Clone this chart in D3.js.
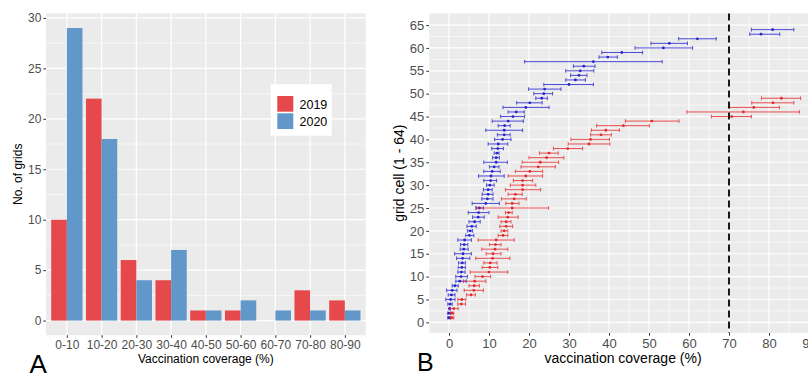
<!DOCTYPE html>
<html>
<head>
<meta charset="utf-8">
<script src="https://cdn.jsdelivr.net/npm/d3@7"></script>
<style>
  body { margin: 0; background: #fff; }
  text { font-family: "Liberation Sans", Arial, sans-serif; }
</style>
</head>
<body>
<div id="chart"></div>
<script>
// Panel A: histogram of grids per coverage bin
const bins = ["0-10", "10-20", "20-30", "30-40", "40-50", "50-60", "60-70", "70-80", "80-90"];
const grids2019 = [10, 22, 6, 4, 1, 1, 0, 3, 2];
const grids2020 = [29, 18, 4, 7, 1, 2, 1, 1, 1];
const yTicksA = [0, 5, 10, 15, 20, 25, 30];

// Panel B: coverage per grid cell (sorted), with intervals
const cov2020 = [0.0, 0.0, 0.15, 0.25, 0.4, 0.6, 0.8, 1.5, 2.7, 3.0, 3.1, 3.2, 3.3, 3.4, 3.5, 3.7, 3.8, 3.9, 5.1, 5.3,
  5.7, 6.4, 7.3, 7.4, 7.6, 9.2, 9.6, 9.8, 9.8, 10.2, 10.4, 10.5, 10.8, 11.3, 11.8, 11.8, 12.0, 12.2, 12.3, 13.4,
  13.8, 13.8, 13.9, 14.8, 16.0, 16.8, 19.2, 20.2, 23.2, 23.7, 23.9, 30.0, 31.6, 32.5, 32.8, 33.7, 36.1, 39.7, 43.2, 53.6,
  55.1, 62.1, 78.0, 80.9];
const lo2020 = [-0.3, -0.3, 0.0, -0.3, -0.8, -0.2, -0.6, 0.8, 1.7, 1.7, 2.2, 2.3, 2.4, 1.9, 1.4, 2.8, 2.9, 2.2, 4.2, 4.6,
  4.5, 5.0, 5.9, 4.8, 6.7, 5.8, 8.2, 8.3, 8.6, 9.4, 8.7, 7.4, 8.7, 10.1, 8.7, 10.9, 11.3, 10.7, 9.8, 11.4,
  12.1, 9.2, 12.3, 10.8, 12.9, 14.8, 13.5, 16.9, 21.7, 21.2, 19.9, 23.7, 29.2, 30.4, 29.2, 31.1, 18.9, 37.5, 38.2, 46.5,
  50.5, 57.4, 75.2, 75.6];
const hi2020 = [0.3, 0.5, 0.3, 0.8, 1.5, 1.5, 2.0, 2.3, 4.3, 4.6, 4.0, 4.1, 4.1, 5.2, 5.6, 4.8, 4.7, 5.6, 6.2, 5.9,
  6.8, 7.8, 8.8, 10.0, 8.6, 12.6, 11.0, 11.0, 10.8, 11.3, 11.9, 13.8, 12.8, 12.5, 14.6, 12.6, 12.5, 13.6, 14.7, 15.5,
  15.3, 18.4, 15.3, 18.6, 18.9, 18.8, 25.0, 23.3, 24.6, 25.9, 28.0, 36.1, 34.1, 34.5, 36.2, 36.5, 53.3, 42.1, 48.4, 60.9,
  59.6, 66.8, 82.7, 86.2];

const cov2019 = [0.7, 0.8, 1.2, 3.1, 3.2, 5.5, 6.2, 6.3, 6.4, 8.4, 10.0, 10.2, 10.3, 10.9, 11.0, 11.5, 11.6, 11.8, 13.5, 13.8,
  14.3, 14.3, 14.7, 14.9, 15.8, 15.8, 16.3, 16.6, 18.4, 18.4, 18.4, 19.2, 20.2, 22.3, 22.8, 24.4, 25.0, 29.7, 35.0, 35.4,
  38.0, 39.2, 43.6, 50.7, 70.7, 73.6, 76.2, 81.0, 83.1];
const lo2019 = [0.3, 0.4, 0.3, 2.2, 2.2, 4.4, 3.8, 5.0, 3.6, 6.5, 5.3, 8.3, 8.7, 6.7, 9.3, 8.2, 10.1, 7.3, 12.3, 13.0,
  12.7, 13.0, 12.3, 14.1, 6.9, 14.2, 13.1, 14.8, 14.1, 15.3, 16.1, 14.8, 16.6, 18.0, 18.3, 20.0, 22.6, 26.1, 29.8, 30.5,
  35.4, 35.6, 36.9, 44.1, 65.6, 59.5, 70.1, 75.7, 78.1];
const hi2019 = [1.2, 1.2, 2.3, 4.1, 4.2, 6.6, 8.6, 7.6, 9.2, 10.4, 14.7, 12.2, 12.0, 15.2, 13.0, 14.7, 13.0, 16.3, 14.7, 14.7,
  15.9, 15.5, 17.3, 15.8, 24.9, 17.5, 19.3, 18.3, 22.9, 21.7, 20.9, 23.4, 23.4, 26.6, 27.4, 28.7, 27.3, 33.4, 40.2, 40.1,
  40.6, 42.6, 50.1, 57.5, 75.6, 87.6, 82.6, 86.2, 87.9];
const xTicksB = [0, 10, 20, 30, 40, 50, 60, 70, 80, 90];
const yTicksB = d3.range(0, 66, 5);
const threshold = 70;

const width = 808, height = 375;
const red = "#e5494c", blue = "#6198c9";
const red2 = "#e8262a", blue2 = "#2323d2";

const svg = d3.select("#chart").append("svg")
  .attr("width", width).attr("height", height)
  .style("display", "block");

svg.append("rect").attr("width", width).attr("height", height).attr("fill", "#fff");

// ---------- Panel A ----------
const a = { l: 46, r: 365.7, t: 13.4, b: 335.2 };
const xA = d3.scalePoint().domain(bins).range([a.l, a.r]).padding(0.6);
const yA = d3.scaleLinear().domain([-1.45, 30.45]).range([a.b, a.t]);
const bw = xA.step() * 0.45;

const gA = svg.append("g");
gA.append("rect").attr("x", a.l).attr("y", a.t)
  .attr("width", a.r - a.l).attr("height", a.b - a.t).attr("fill", "#ebebeb");

// minor + major gridlines
gA.append("g").selectAll("line").data(d3.range(2.5, 30, 5)).join("line")
  .attr("x1", a.l).attr("x2", a.r).attr("y1", d => yA(d)).attr("y2", d => yA(d))
  .attr("stroke", "#fff").attr("stroke-width", 0.6);
gA.append("g").selectAll("line").data(yTicksA).join("line")
  .attr("x1", a.l).attr("x2", a.r).attr("y1", d => yA(d)).attr("y2", d => yA(d))
  .attr("stroke", "#fff").attr("stroke-width", 1.2);
gA.append("g").selectAll("line").data(bins).join("line")
  .attr("x1", d => xA(d)).attr("x2", d => xA(d)).attr("y1", a.t).attr("y2", a.b)
  .attr("stroke", "#fff").attr("stroke-width", 1.2);

// bars
gA.append("g").selectAll("rect").data(bins).join("rect")
  .attr("x", d => xA(d) - bw).attr("width", bw)
  .attr("y", (d, i) => yA(grids2019[i])).attr("height", (d, i) => yA(0) - yA(grids2019[i]))
  .attr("fill", red);
gA.append("g").selectAll("rect").data(bins).join("rect")
  .attr("x", d => xA(d)).attr("width", bw)
  .attr("y", (d, i) => yA(grids2020[i])).attr("height", (d, i) => yA(0) - yA(grids2020[i]))
  .attr("fill", blue);

// axes
const axA_y = gA.append("g").attr("transform", `translate(${a.l},0)`)
  .call(d3.axisLeft(yA).tickValues(yTicksA).tickSize(2.7).tickPadding(2));
const axA_x = gA.append("g").attr("transform", `translate(0,${a.b})`)
  .call(d3.axisBottom(xA).tickSize(2.7).tickPadding(3));
[axA_y, axA_x].forEach(ax => {
  ax.select(".domain").remove();
  ax.selectAll(".tick line").attr("stroke", "#333");
  ax.selectAll(".tick text").attr("fill", "#4d4d4d").attr("font-size", 12)
    .attr("font-family", "Liberation Sans, Arial, sans-serif");
});

gA.append("text").attr("x", (a.l + a.r) / 2).attr("y", 363)
  .attr("text-anchor", "middle").attr("font-size", 12).text("Vaccination coverage (%)");
gA.append("text").attr("transform", `translate(22,${(a.t + a.b) / 2}) rotate(-90)`)
  .attr("text-anchor", "middle").attr("font-size", 12).text("No. of grids");

// legend
const leg = gA.append("g");
leg.append("rect").attr("x", 270.7).attr("y", 84.3).attr("width", 61).attr("height", 51.4).attr("fill", "#fff");
[["2019", red], ["2020", blue]].forEach(([lab, c], i) => {
  leg.append("rect").attr("x", 277.3).attr("y", 96 + i * 17.3).attr("width", 16).attr("height", 15.7).attr("fill", c);
  leg.append("text").attr("x", 299.5).attr("y", 108.6 + i * 17.3).attr("font-size", 12.5).attr("fill", "#000").text(lab);
});

svg.append("text").attr("x", 29.5).attr("y", 373).attr("font-size", 26).text("A");

// ---------- Panel B ----------
const b = { l: 429, t: 13.4, b: 333 };
const xB = d3.scaleLinear().domain([-5, 92.5]).range([b.l, b.l + 97.5 * 4]);
const yB = d3.scaleLinear().domain([-2.33, 67.55]).range([b.b, b.t]);
const rB = width;

const gB = svg.append("g");
gB.append("rect").attr("x", b.l).attr("y", b.t)
  .attr("width", rB - b.l).attr("height", b.b - b.t).attr("fill", "#ebebeb");

gB.append("g").selectAll("line").data(d3.range(2.5, 67, 5)).join("line")
  .attr("x1", b.l).attr("x2", rB).attr("y1", d => yB(d)).attr("y2", d => yB(d))
  .attr("stroke", "#fff").attr("stroke-width", 0.6);
gB.append("g").selectAll("line").data(d3.range(-5, 92, 10)).join("line")
  .attr("x1", d => xB(d)).attr("x2", d => xB(d)).attr("y1", b.t).attr("y2", b.b)
  .attr("stroke", "#fff").attr("stroke-width", 0.6);
gB.append("g").selectAll("line").data(yTicksB).join("line")
  .attr("x1", b.l).attr("x2", rB).attr("y1", d => yB(d)).attr("y2", d => yB(d))
  .attr("stroke", "#fff").attr("stroke-width", 1.2);
gB.append("g").selectAll("line").data(xTicksB).join("line")
  .attr("x1", d => xB(d)).attr("x2", d => xB(d)).attr("y1", b.t).attr("y2", b.b)
  .attr("stroke", "#fff").attr("stroke-width", 1.2);

function drawSeries(cov, lo, hi, color) {
  const rows = cov.map((v, i) => ({ y: i + 1, v, lo: lo[i], hi: hi[i] }));
  const g = gB.append("g");
  const eb = g.append("g").attr("stroke", color).attr("stroke-width", 1).attr("opacity", 0.8);
  eb.selectAll("line.bar").data(rows).join("line").attr("class", "bar")
    .attr("x1", d => xB(d.lo)).attr("x2", d => xB(d.hi))
    .attr("y1", d => yB(d.y)).attr("y2", d => yB(d.y));
  eb.selectAll("line.capl").data(rows).join("line").attr("class", "capl")
    .attr("x1", d => xB(d.lo)).attr("x2", d => xB(d.lo))
    .attr("y1", d => yB(d.y) - 1.8).attr("y2", d => yB(d.y) + 1.8);
  eb.selectAll("line.caph").data(rows).join("line").attr("class", "caph")
    .attr("x1", d => xB(d.hi)).attr("x2", d => xB(d.hi))
    .attr("y1", d => yB(d.y) - 1.8).attr("y2", d => yB(d.y) + 1.8);
  g.append("g").selectAll("circle").data(rows).join("circle")
    .attr("cx", d => xB(d.v)).attr("cy", d => yB(d.y)).attr("r", 1.4)
    .attr("fill", color);
}
drawSeries(cov2020, lo2020, hi2020, blue2);
drawSeries(cov2019, lo2019, hi2019, red2);

gB.append("line")
  .attr("x1", xB(threshold)).attr("x2", xB(threshold)).attr("y1", b.t).attr("y2", b.b)
  .attr("stroke", "#000").attr("stroke-width", 1.8).attr("stroke-dasharray", "7,4");

const axB_y = gB.append("g").attr("transform", `translate(${b.l},0)`)
  .call(d3.axisLeft(yB).tickValues(yTicksB).tickSize(2.7).tickPadding(2));
const axB_x = gB.append("g").attr("transform", `translate(0,${b.b})`)
  .call(d3.axisBottom(xB).tickValues(xTicksB).tickFormat(d3.format("d")).tickSize(2.7).tickPadding(3));
[axB_y, axB_x].forEach(ax => {
  ax.select(".domain").remove();
  ax.selectAll(".tick line").attr("stroke", "#333");
  ax.selectAll(".tick text").attr("fill", "#4d4d4d").attr("font-size", 13)
    .attr("font-family", "Liberation Sans, Arial, sans-serif");
});

gB.append("text").attr("x", 623).attr("y", 363)
  .attr("text-anchor", "middle").attr("font-size", 14).text("vaccination coverage (%)");
gB.append("text").attr("transform", `translate(404,${(b.t + b.b) / 2}) rotate(-90)`)
  .attr("text-anchor", "middle").attr("font-size", 14).text("grid cell (1 - 64)");

svg.append("text").attr("x", 417).attr("y", 371).attr("font-size", 25).text("B");
</script>
</body>
</html>
